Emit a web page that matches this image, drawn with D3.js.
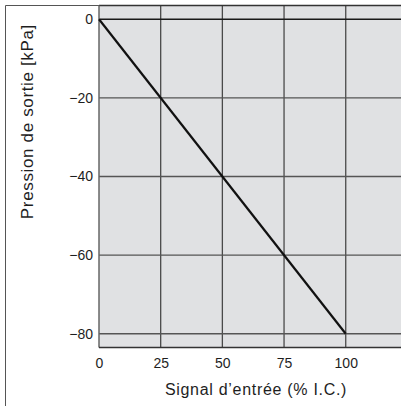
<!DOCTYPE html>
<html lang="fr">
<head>
    <meta charset="utf-8">
    <title>Pression de sortie</title>
    <style>
        body { margin: 0; background: #fff; }
        text { font-family: "Liberation Sans", Arial, sans-serif; fill: #1e1e1e; }
    </style>
</head>
<body>

<div id="chart"></div>

<script src="https://d3js.org/d3.v7.min.js"></script>
<script type="text/javascript">

    // data
    var signal = [0, 100];          // % I.C.
    var pression = [0, -80];        // kPa
    var xTicks = [0, 25, 50, 75, 100];
    var yTicks = [0, -20, -40, -60, -80];

    var width = 401,
        height = 406;

    var plot = { left: 99, right: 401, top: 5.5, bottom: 347.5 };

    var svg = d3.select("#chart")
        .append("svg")
        .attr("width", width)
        .attr("height", height);

    var x = d3.scaleLinear().domain([0, 122.4]).range([plot.left, plot.right]);
    var y = d3.scaleLinear().domain([3.5, -83.5]).range([plot.top, plot.bottom]);

    // outer frame (left + top only visible)
    svg.append("line")
        .attr("x1", 5.5).attr("y1", 5.5).attr("x2", width).attr("y2", 5.5)
        .style("stroke", "#555").style("stroke-width", 1);
    svg.append("line")
        .attr("x1", 5.5).attr("y1", 5.5).attr("x2", 5.5).attr("y2", height)
        .style("stroke", "#555").style("stroke-width", 1);

    // plot background
    svg.append("rect")
        .attr("x", plot.left)
        .attr("y", plot.top)
        .attr("width", plot.right - plot.left)
        .attr("height", plot.bottom - plot.top)
        .style("fill", "#e0e1e3");

    // grid
    svg.selectAll(".vgrid")
        .data(xTicks.slice(1))
        .enter().append("line")
        .attr("class", "vgrid")
        .attr("x1", function (d) { return x(d); })
        .attr("x2", function (d) { return x(d); })
        .attr("y1", plot.top)
        .attr("y2", plot.bottom)
        .style("stroke", "#4a4a4a")
        .style("stroke-width", 1.3);

    svg.selectAll(".hgrid")
        .data(yTicks)
        .enter().append("line")
        .attr("class", "hgrid")
        .attr("x1", plot.left)
        .attr("x2", plot.right)
        .attr("y1", function (d) { return y(d); })
        .attr("y2", function (d) { return y(d); })
        .style("stroke", function (d) { return d === 0 ? "#1a1a1a" : "#555"; })
        .style("stroke-width", 1.3);

    // borders of plot
    svg.append("line")
        .attr("x1", plot.left).attr("y1", plot.top).attr("x2", plot.right).attr("y2", plot.top)
        .style("stroke", "#333").style("stroke-width", 1.3);
    svg.append("line")
        .attr("x1", plot.left).attr("y1", plot.top).attr("x2", plot.left).attr("y2", plot.bottom)
        .style("stroke", "#666").style("stroke-width", 1.5);
    svg.append("line")
        .attr("x1", plot.left).attr("y1", plot.bottom).attr("x2", plot.right).attr("y2", plot.bottom)
        .style("stroke", "#333").style("stroke-width", 1.3);

    // the curve
    var line = d3.line()
        .x(function (d, i) { return x(signal[i]); })
        .y(function (d) { return y(d); });

    svg.append("path")
        .datum(pression)
        .attr("d", line)
        .style("fill", "none")
        .style("stroke", "#111")
        .style("stroke-width", 2.2);

    // axes (labels only)
    var xAxis = svg.append("g")
        .attr("transform", "translate(0," + plot.bottom + ")")
        .call(d3.axisBottom(x).tickValues(xTicks).tickSize(0).tickPadding(11));

    var yAxis = svg.append("g")
        .attr("transform", "translate(" + plot.left + ",0)")
        .call(d3.axisLeft(y).tickValues(yTicks).tickSize(0).tickPadding(6));

    [xAxis, yAxis].forEach(function (g) {
        g.select(".domain").remove();
        g.selectAll("text")
            .style("font-family", '"Liberation Sans", Arial, sans-serif')
            .style("font-size", "14px")
            .style("fill", "#1e1e1e");
    });

    // titles
    svg.append("text")
        .attr("x", 256)
        .attr("y", 394.5)
        .attr("text-anchor", "middle")
        .style("font-size", "16px")
        .style("letter-spacing", "0.7px")
        .text("Signal d\u2019entrée (% I.C.)");

    svg.append("text")
        .attr("transform", "translate(33,24) rotate(-90)")
        .attr("text-anchor", "end")
        .style("font-size", "17px")
        .style("letter-spacing", "0.65px")
        .text("Pression de sortie [kPa]");

</script>
</body>
</html>
